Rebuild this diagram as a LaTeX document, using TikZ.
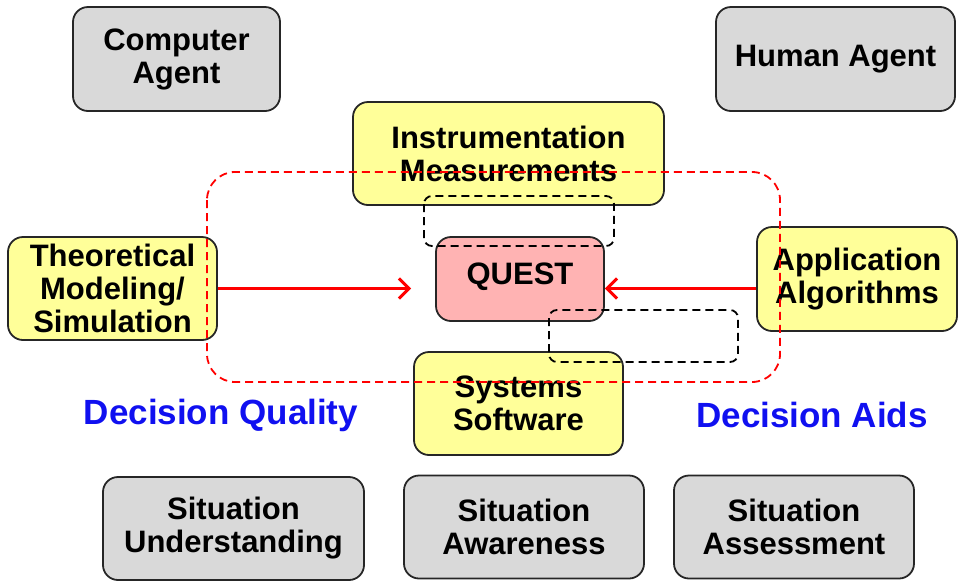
\documentclass[tikz,border=0pt]{standalone}
\usepackage{fontspec}
\setmainfont{Liberation Sans}
\usetikzlibrary{arrows.meta}
\definecolor{boxgray}{HTML}{D9D9D9}
\definecolor{boxyellow}{HTML}{FFFF99}
\definecolor{boxpink}{HTML}{FFB3B3}
\definecolor{edge}{HTML}{262626}
\definecolor{flowred}{HTML}{FF0000}
\definecolor{labelblue}{HTML}{1010F0}
\tikzset{
  base/.style={draw=edge, line width=1.8pt, rounded corners=15pt, align=center,
    font=\fontsize{31}{33}\selectfont\bfseries, inner sep=0pt},
  graybox/.style={base, fill=boxgray},
  yellowbox/.style={base, fill=boxyellow},
  pinkbox/.style={base, fill=boxpink},
  flow/.style={draw=flowred, line width=3pt, -{Straight Barb[length=10pt,width=20pt,line width=3pt]}},
  region/.style={draw=flowred, line width=1.8pt, dash pattern=on 8pt off 5pt, rounded corners=28pt},
  overlap/.style={draw=black, line width=1.8pt, dash pattern=on 8pt off 5pt, rounded corners=8pt},
  tag/.style={text=labelblue, font=\fontsize{35}{37}\selectfont\bfseries}
}
\begin{document}
\begin{tikzpicture}[x=1pt,y=-1pt]
\useasboundingbox (0,0) rectangle (959,582);
% agents
\node[graybox, minimum width=207pt, minimum height=104pt] (comp) at (176.5,59) {Computer\\Agent};
\node[graybox, minimum width=239pt, minimum height=104pt] (human) at (835.5,59) {Human Agent};
% research areas around the core
\node[yellowbox, minimum width=311pt, minimum height=103pt] (instr) at (508.5,153.5) {Instrumentation\\Measurements};
\node[yellowbox, minimum width=209pt, minimum height=103pt] (theo) at (112.5,288.5) {Theoretical\\Modeling/\\Simulation};
\node[yellowbox, minimum width=200pt, minimum height=104pt] (app) at (857,279) {Application\\Algorithms};
\node[yellowbox, minimum width=209pt, minimum height=103pt] (sys) at (518.5,403.5) {Systems\\Software};
\node[pinkbox, minimum width=168pt, minimum height=84pt] (quest) at (520,279) {QUEST\rule[-10pt]{0pt}{0pt}};
% situation boxes
\node[graybox, minimum width=261pt, minimum height=103pt] (su) at (233.5,528.5) {Situation\\Understanding};
\node[graybox, minimum width=240pt, minimum height=103pt] (sa) at (524,527) {Situation\\Awareness};
\node[graybox, minimum width=240pt, minimum height=103pt] (sas) at (794,527) {Situation\\Assessment};
% labels
\node[tag] (dq) at (221,415) {Decision Quality};
\node[tag] (da) at (812,415) {Decision Aids};
% flows into QUEST
\draw[flow] (theo.east) -- ([xshift=-24pt]quest.west |- theo.east);
\draw[flow] (app.west |- theo.east) -- (quest.east |- theo.east);
% dashed regions
\coordinate (r1) at (207,172);
\coordinate (r2) at (780,382);
\draw[region] (r1) rectangle (r2);
\coordinate (o1) at (424,196);
\coordinate (o2) at (614,246);
\draw[overlap] (o1) rectangle (o2);
\coordinate (o3) at (549,310);
\coordinate (o4) at (738,362);
\draw[overlap] (o3) rectangle (o4);
\end{tikzpicture}
\end{document}
